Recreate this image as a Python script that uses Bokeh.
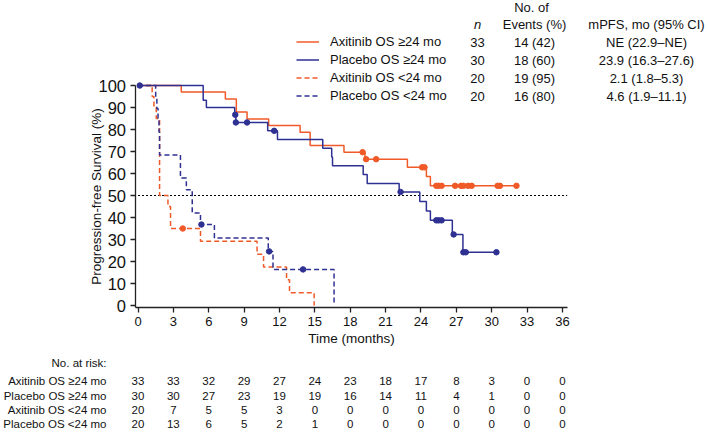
from bokeh.plotting import figure
from bokeh.models import Range1d, FixedTicker, Label, Legend, LegendItem
from bokeh.embed import file_html
from bokeh.resources import INLINE

# ---------------- data ----------------
month_ticks = [0, 3, 6, 9, 12, 15, 18, 21, 24, 27, 30, 33, 36]
pct_ticks = [0, 10, 20, 30, 40, 50, 60, 70, 80, 90, 100]
median_level = 50

series_names = ["Axitinib OS \u226524 mo", "Placebo OS \u226524 mo",
                "Axitinib OS <24 mo", "Placebo OS <24 mo"]
series_n = ["33", "30", "20", "20"]
series_events = ["14 (42)", "18 (60)", "19 (95)", "16 (80)"]
series_mpfs = ["NE (22.9\u2013NE)", "23.9 (16.3\u201327.6)", "2.1 (1.8\u20135.3)", "4.6 (1.9\u201311.1)"]

# Axitinib OS >=24 mo
axi_ge_t = [0, 3.67, 7.41, 8.34, 9.25, 11.08, 13.75, 14.6, 17.47, 19.25, 22.85, 24.46, 24.8, 32.1]
axi_ge_s = [100, 97.0, 93.9, 87.9, 84.8, 81.8, 78.8, 72.7, 69.7, 66.5, 62.8, 58.6, 54.4, 54.4]
axi_ge_ct = [19.05, 19.35, 20.2, 24.1, 24.3, 25.3, 25.5, 25.75, 26.9, 27.4, 27.6, 28.0, 28.3, 30.5, 30.7, 32.1]
axi_ge_cs = [69.7, 66.5, 66.5, 62.8, 62.8, 54.4, 54.4, 54.4, 54.4, 54.4, 54.4, 54.4, 54.4, 54.4, 54.4, 54.4]

# Placebo OS >=24 mo
pla_ge_t = [0, 5.53, 5.8, 8.2, 8.3, 11.0, 11.83, 15.67, 16.43, 16.5, 19.1, 19.44, 22.15, 23.9, 24.46, 24.8, 26.66, 27.56, 30.4]
pla_ge_s = [100, 93.3, 90.0, 86.7, 83.2, 79.4, 75.5, 71.5, 67.5, 63.5, 59.5, 55.5, 51.6, 47.3, 43.0, 38.7, 32.3, 24.2, 24.2]
pla_ge_ct = [8.25, 8.3, 9.25, 11.55, 22.27, 25.3, 25.5, 25.75, 26.77, 27.6, 27.8, 30.4]
pla_ge_cs = [86.7, 83.2, 83.2, 79.4, 51.6, 38.7, 38.7, 38.7, 32.3, 24.2, 24.2, 24.2]

# Axitinib OS <24 mo
axi_lt_t = [0, 1.2, 1.35, 1.55, 1.83, 2.54, 2.76, 5.3, 10.1, 10.65, 12.6, 12.85, 14.94]
axi_lt_s = [100, 95, 90, 85, 50, 45, 35, 29.2, 23.3, 17.5, 11.7, 5.8, 0]
axi_lt_ct = [3.8]
axi_lt_cs = [35]

# Placebo OS <24 mo
pla_lt_t = [0, 1.5, 1.6, 1.7, 1.78, 1.83, 3.6, 4.1, 4.6, 5.3, 6.48, 11.05, 11.45, 16.63]
pla_lt_s = [100, 94.7, 89.5, 84.2, 78.9, 68.4, 57.9, 52.6, 42.1, 36.8, 30.7, 24.6, 16.4, 0]
pla_lt_ct = [0.15, 5.38, 11.12, 14.0]
pla_lt_cs = [100, 36.8, 24.6, 16.4]

# numbers at risk
risk_axi_ge = [33, 33, 32, 29, 27, 24, 23, 18, 17, 8, 3, 0, 0]
risk_pla_ge = [30, 30, 27, 23, 19, 19, 16, 14, 11, 4, 1, 0, 0]
risk_axi_lt = [20, 7, 5, 5, 3, 0, 0, 0, 0, 0, 0, 0, 0]
risk_pla_lt = [20, 13, 6, 5, 2, 1, 0, 0, 0, 0, 0, 0, 0]

# ---------------- layout / styling ----------------
ORANGE = "#F05A28"
BLUE = "#2E3192"
INK = "#111111"
FONT = "Liberation Sans"
DASH = "5 3"

W, H = 707, 434          # canvas size (page template has no margin)
OX, SX = 137.5, 11.79    # canvas x of month 0, px per month
OY, SY = 305.0, 2.2      # canvas y of 0 %, px per percent

def dx(px):
    return (px - OX) / SX

def dy(py):
    return (OY - py) / SY

p = figure(width=W, height=H,
           x_range=Range1d(dx(0), dx(W)), y_range=Range1d(dy(H), dy(0)),
           min_border=0, output_backend="svg", toolbar_location=None)
p.outline_line_color = None
p.xgrid.visible = False
p.ygrid.visible = False

AX_X0, AX_X1 = dx(134.5), dx(566.7)   # x-axis extent
AX_Y0 = dy(306.7)                      # x-axis level

for ax in (p.xaxis[0], p.yaxis[0]):
    ax.axis_line_width = 1.3
    ax.axis_line_color = "#222222"
    ax.major_tick_line_color = "#222222"
    ax.major_tick_line_width = 1.3
    ax.major_tick_in = 0
    ax.major_tick_out = 5
    ax.minor_tick_line_color = None
    ax.major_label_text_font = FONT
    ax.major_label_text_color = INK
    ax.axis_label_text_font = FONT
    ax.axis_label_text_font_style = "normal"
    ax.axis_label_text_color = INK
    ax.axis_label_text_font_size = "13.5px"

p.xaxis.fixed_location = AX_Y0
p.xaxis.bounds = (AX_X0, AX_X1)
p.xaxis.ticker = FixedTicker(ticks=month_ticks)
p.xaxis.major_label_text_font_size = "13px"
p.xaxis.major_label_standoff = 5
p.xaxis.axis_label = "Time (months)"
p.xaxis.axis_label_standoff = 1

p.yaxis.fixed_location = AX_X0
p.yaxis.bounds = (AX_Y0, 100)
p.yaxis.ticker = FixedTicker(ticks=pct_ticks)
p.yaxis.major_label_text_font_size = "16.5px"
p.yaxis.major_label_standoff = 4
p.yaxis.axis_label = "Progression-free Survival (%)"
p.yaxis.axis_label_standoff = -8

# median reference line across the plotting area
p.segment(x0=[0], y0=[median_level], x1=[AX_X1], y1=[median_level],
          line_color="black", line_width=1, line_dash="2 2")

r_axi_lt = p.step(axi_lt_t, axi_lt_s, mode="after", line_color=ORANGE, line_width=1.5, line_dash=DASH)
r_pla_lt = p.step(pla_lt_t, pla_lt_s, mode="after", line_color=BLUE, line_width=1.5, line_dash=DASH)
r_axi_ge = p.step(axi_ge_t, axi_ge_s, mode="after", line_color=ORANGE, line_width=1.5)
r_pla_ge = p.step(pla_ge_t, pla_ge_s, mode="after", line_color=BLUE, line_width=1.5)

p.scatter(axi_lt_ct, axi_lt_cs, size=5.5, color=ORANGE)
p.scatter(pla_lt_ct, pla_lt_cs, size=5.5, color=BLUE)
p.scatter(axi_ge_ct, axi_ge_cs, size=5.5, color=ORANGE)
p.scatter(pla_ge_ct, pla_ge_cs, size=5.5, color=BLUE)

# legend (line samples + names); location is offset from canvas bottom-left
legend = Legend(items=[LegendItem(label=series_names[0], renderers=[r_axi_ge]),
                       LegendItem(label=series_names[1], renderers=[r_pla_ge]),
                       LegendItem(label=series_names[2], renderers=[r_axi_lt]),
                       LegendItem(label=series_names[3], renderers=[r_pla_lt])],
                location=(296, H - 104),
                orientation="vertical", glyph_width=23, glyph_height=17,
                label_height=17, spacing=1, padding=0, margin=0,
                label_standoff=11, border_line_color=None,
                background_fill_alpha=0, label_text_font=FONT,
                label_text_font_size="13px", label_text_color=INK)
p.add_layout(legend)

def add_text(px, py, text, align="center", size="13px", style="normal"):
    p.add_layout(Label(x=dx(px), y=dy(py), text=text, text_align=align,
                       text_baseline="middle", text_font=FONT,
                       text_font_size=size, text_font_style=style,
                       text_color=INK))

add_text(531, 7, "No. of")
add_text(477, 24, "n", style="italic")
add_text(534, 24, "Events (%)")
add_text(646, 24, "mPFS, mo (95% CI)")
row_y = [41.5, 59.5, 77.5, 95.5]
for i in range(4):
    add_text(477, row_y[i], series_n[i])
    add_text(534, row_y[i], series_events[i])
    add_text(646, row_y[i], series_mpfs[i])

# risk table
add_text(106, 362.5, "No. at risk:", align="right", size="11.5px")
risk_rows = [risk_axi_ge, risk_pla_ge, risk_axi_lt, risk_pla_lt]
risk_y = [380, 395, 409, 423]
for i, row in enumerate(risk_rows):
    add_text(106, risk_y[i], series_names[i], align="right", size="11.5px")
    for m, v in zip(month_ticks, row):
        p.add_layout(Label(x=m, y=dy(risk_y[i]), text=str(v), text_align="center",
                           text_baseline="middle", text_font=FONT,
                           text_font_size="11.5px", text_color=INK))

open("out.html", "w").write(file_html(p, INLINE))
